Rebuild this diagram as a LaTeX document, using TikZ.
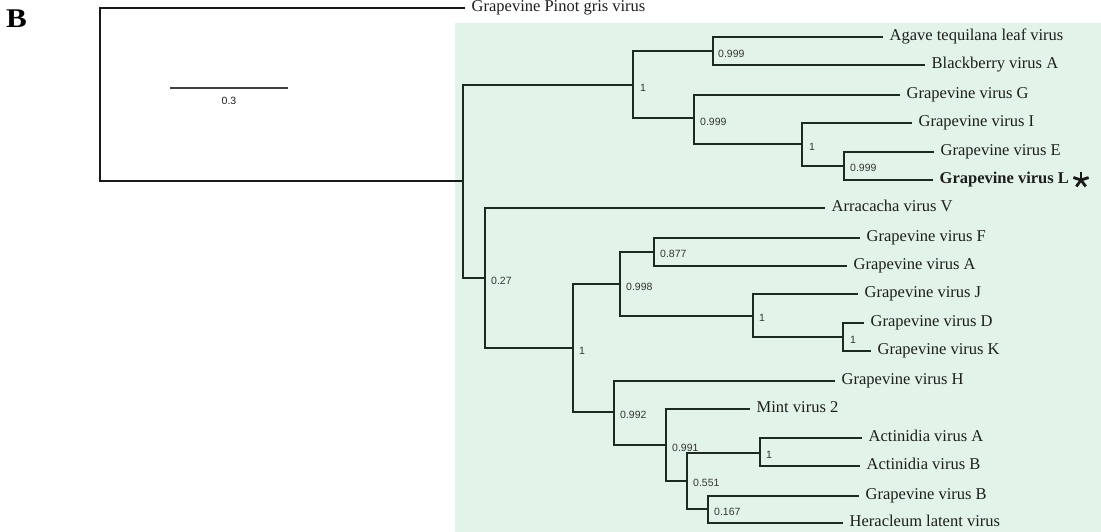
\documentclass[tikz,border=0pt]{standalone}
\usepackage{fontspec}
\setmainfont{Liberation Serif}
\newfontfamily\lsans{Liberation Sans}
\definecolor{bggreen}{HTML}{E2F3E8}
\definecolor{treeline}{HTML}{1C2A20}
\definecolor{labtext}{HTML}{1E1E1E}
\begin{document}
\begin{tikzpicture}[x=1pt,y=-1pt,
  branch/.style={draw=treeline,line width=2pt,line join=miter},
  leaf/.style={anchor=west,inner xsep=6.5pt,inner ysep=0pt,text height=0.62em,text depth=0pt,
     font=\fontsize{16.5}{18}\selectfont,text=labtext},
  boot/.style={anchor=west,inner sep=0pt,font=\lsans\fontsize{10.5}{12}\selectfont,text=labtext!90}]
\useasboundingbox (0,0) rectangle (1101,532);
\fill[bggreen] (455,23) rectangle (1101,532);
% panel letter
\node[anchor=base west,inner sep=0pt,font=\bfseries\fontsize{27}{30}\selectfont] (panel) at (6,28) {\scalebox{1.15}[1.0]{B}};
% scale bar
\coordinate (sb1) at (170,88);
\coordinate (sb2) at (288,88);
\draw[draw=black!75,line width=1.6pt] (sb1) -- (sb2);
\node[inner sep=0pt,font=\lsans\fontsize{10.5}{12}\selectfont,text=labtext] (sblab) at (229,101) {0.3};
% internal nodes
\coordinate (root) at (100,94);
\coordinate (n1) at (463,181);
\coordinate (n2) at (633,85);
\coordinate (n3) at (713,51);
\coordinate (n4) at (694,118);
\coordinate (n5) at (802,144);
\coordinate (n6) at (844,166);
\coordinate (n7) at (485,278);
\coordinate (n8) at (573,348);
\coordinate (n9) at (620,284);
\coordinate (n10) at (654,252);
\coordinate (n11) at (753,316);
\coordinate (n12) at (843,337);
\coordinate (n13) at (614,412);
\coordinate (n14) at (666,445);
\coordinate (n15) at (687,481);
\coordinate (n16) at (760,453);
\coordinate (n17) at (708,509);
% leaves
\node[leaf] (pinot) at (465,8) {Grapevine Pinot gris virus};
\node[leaf] (agave) at (883,37) {Agave tequilana leaf virus};
\node[leaf] (bbva) at (925,65) {Blackberry virus A};
\node[leaf] (gvg) at (900,95) {Grapevine virus G};
\node[leaf] (gvi) at (912,123) {Grapevine virus I};
\node[leaf] (gve) at (934,152) {Grapevine virus E};
\node[leaf,font=\bfseries\fontsize{16.5}{18}\selectfont] (gvl) at (933,180) {Grapevine virus L};
\node[leaf] (avv) at (825,208) {Arracacha virus V};
\node[leaf] (gvf) at (860,238) {Grapevine virus F};
\node[leaf] (gva) at (847,266) {Grapevine virus A};
\node[leaf] (gvj) at (858,294) {Grapevine virus J};
\node[leaf] (gvd) at (864,323) {Grapevine virus D};
\node[leaf] (gvk) at (871,351) {Grapevine virus K};
\node[leaf] (gvh) at (835,381) {Grapevine virus H};
\node[leaf] (mint) at (750,409) {Mint virus 2};
\node[leaf] (acva) at (862,438) {Actinidia virus A};
\node[leaf] (acvb) at (860,466) {Actinidia virus B};
\node[leaf] (gvb) at (859,496) {Grapevine virus B};
\node[leaf] (hlv) at (843,523) {Heracleum latent virus};
% branches
\draw[branch,draw=black!90] (root) |- (pinot.west);
\draw[branch,draw=black!90] (root) |- (n1);
\draw[branch] (n1) |- (n2);
\draw[branch] (n1) |- (n7);
\draw[branch] (n2) |- (n3);
\draw[branch] (n2) |- (n4);
\draw[branch] (n3) |- (agave.west);
\draw[branch] (n3) |- (bbva.west);
\draw[branch] (n4) |- (gvg.west);
\draw[branch] (n4) |- (n5);
\draw[branch] (n5) |- (gvi.west);
\draw[branch] (n5) |- (n6);
\draw[branch] (n6) |- (gve.west);
\draw[branch] (n6) |- (gvl.west);
\draw[branch] (n7) |- (avv.west);
\draw[branch] (n7) |- (n8);
\draw[branch] (n8) |- (n9);
\draw[branch] (n8) |- (n13);
\draw[branch] (n9) |- (n10);
\draw[branch] (n9) |- (n11);
\draw[branch] (n10) |- (gvf.west);
\draw[branch] (n10) |- (gva.west);
\draw[branch] (n11) |- (gvj.west);
\draw[branch] (n11) |- (n12);
\draw[branch] (n12) |- (gvd.west);
\draw[branch] (n12) |- (gvk.west);
\draw[branch] (n13) |- (gvh.west);
\draw[branch] (n13) |- (n14);
\draw[branch] (n14) |- (mint.west);
\draw[branch] (n14) |- (n15);
\draw[branch] (n15) |- (n16);
\draw[branch] (n15) |- (n17);
\draw[branch] (n16) |- (acva.west);
\draw[branch] (n16) |- (acvb.west);
\draw[branch] (n17) |- (gvb.west);
\draw[branch] (n17) |- (hlv.west);
% support values
\node[boot] (b2) at ([shift={(7,3)}]n2) {1};
\node[boot] (b3) at ([shift={(5,3)}]n3) {0.999};
\node[boot] (b4) at ([shift={(6,4)}]n4) {0.999};
\node[boot] (b5) at ([shift={(7,3)}]n5) {1};
\node[boot] (b6) at ([shift={(6,2)}]n6) {0.999};
\node[boot] (b7) at ([shift={(6,3)}]n7) {0.27};
\node[boot] (b8) at ([shift={(6,3)}]n8) {1};
\node[boot] (b9) at ([shift={(6,3)}]n9) {0.998};
\node[boot] (b10) at ([shift={(6,2)}]n10) {0.877};
\node[boot] (b11) at ([shift={(6,2)}]n11) {1};
\node[boot] (b12) at ([shift={(7,3)}]n12) {1};
\node[boot] (b13) at ([shift={(6,3)}]n13) {0.992};
\node[boot] (b14) at ([shift={(6,3)}]n14) {0.991};
\node[boot] (b15) at ([shift={(6,2)}]n15) {0.551};
\node[boot] (b16) at ([shift={(6,2)}]n16) {1};
\node[boot] (b17) at ([shift={(6,3)}]n17) {0.167};
% star mark
\coordinate (star) at (1081,180);
\foreach \a in {90,162,234,306,18}
  \draw[draw=black!90,line width=2.8pt] (star) -- ++(-\a:8);
\end{tikzpicture}
\end{document}
